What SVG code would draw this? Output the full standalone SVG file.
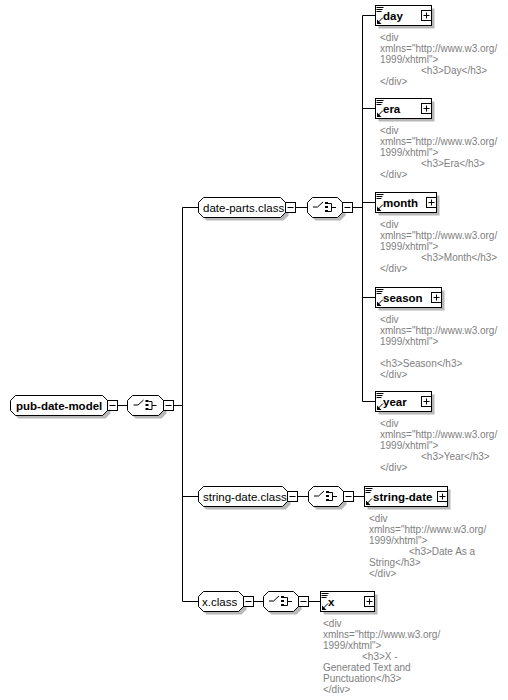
<svg xmlns="http://www.w3.org/2000/svg" width="508" height="700" viewBox="0 0 508 700">
<defs>
<style>
.bg{fill:#fff}
.box{fill:#fff;stroke:#000;stroke-width:1}
.sh{fill:#b8b8b8}
.ln{stroke:#000;stroke-width:1;fill:none}
.t{font-family:"Liberation Sans",Arial,sans-serif;font-size:11.5px;fill:#000}
.b{font-weight:bold}
.ann{font-family:"Liberation Sans",Arial,sans-serif;font-size:10px;fill:#808080}
</style>
<g id="minus"><rect class="box" x="0" y="0" width="10" height="10"/><path class="ln" d="M2,5H8"/></g>
<g id="plus"><rect class="box" x="0" y="0" width="10" height="10"/><path class="ln" d="M2,5H8M5,2V8"/></g>
<g id="choice">
<path class="ln" d="M6,0H10.5L16,-5"/>
<rect x="18" y="-5" width="3" height="2" fill="#000"/>
<rect x="18" y="-1" width="3" height="2" fill="#000"/>
<rect x="18" y="3" width="3" height="2" fill="#000"/>
<path class="ln" d="M21,-3.5H24.5V4.5H21M24.5,0.5H29"/>
</g>
<g id="elicons">
<path class="ln" d="M1,2H8M1,4H7M1,6H6"/>
<path d="M1.5,18.5L1.5,14L6,18.5Z" fill="#000"/>
<path class="ln" d="M3,16.5L7.5,12"/>
</g>
</defs>
<rect class="bg" x="0" y="0" width="508" height="700"/>

<g id="connectors">
<path class="ln" d="M117.5,405.5H127.5M173.5,405.5H182.5"/>
<path class="ln" d="M182.5,207.5V601.5M182.5,207.5H198.5M182.5,496.5H198.5M182.5,601.5H198.5"/>
<path class="ln" d="M295.5,207.5H307.5M352.5,207.5H362.5"/>
<path class="ln" d="M362.5,15.5V401.5M362.5,15.5H375.5M362.5,108.5H375.5M362.5,202.5H375.5M362.5,297.5H375.5M362.5,401.5H375.5"/>
<path class="ln" d="M297.5,496.5H308.5M353.5,496.5H364.5"/>
<path class="ln" d="M253.5,601.5H263.5M308.5,601.5H320.5"/>
</g>

<g id="pub-date-model">
<polygon class="sh" points="18.5,398.5 105.5,398.5 110.5,403.5 110.5,413.5 105.5,418.5 18.5,418.5 13.5,413.5 13.5,403.5"/>
<polygon class="box" points="15.5,395.5 102.5,395.5 107.5,400.5 107.5,410.5 102.5,415.5 15.5,415.5 10.5,410.5 10.5,400.5"/>
<text class="t b" x="16" y="410">pub-date-model</text>
<use href="#minus" x="107.5" y="400.5"/>
</g>

<g id="pub-choice">
<polygon class="sh" points="135.5,398.5 161.5,398.5 166.5,403.5 166.5,413.5 161.5,418.5 135.5,418.5 130.5,413.5 130.5,403.5"/>
<polygon class="box" points="132.5,395.5 158.5,395.5 163.5,400.5 163.5,410.5 158.5,415.5 132.5,415.5 127.5,410.5 127.5,400.5"/>
<use href="#choice" x="127.5" y="405"/>
<use href="#minus" x="163.5" y="400.5"/>
</g>

<g id="date-parts.class">
<polygon class="sh" points="206.5,200.5 283.5,200.5 288.5,205.5 288.5,215.5 283.5,220.5 206.5,220.5 201.5,215.5 201.5,205.5"/>
<polygon class="box" points="203.5,197.5 280.5,197.5 285.5,202.5 285.5,212.5 280.5,217.5 203.5,217.5 198.5,212.5 198.5,202.5"/>
<text class="t" x="203" y="212">date-parts.class</text>
<use href="#minus" x="285.5" y="202.5"/>
</g>

<g id="date-parts-choice">
<polygon class="sh" points="315.5,200.5 340.5,200.5 345.5,205.5 345.5,215.5 340.5,220.5 315.5,220.5 310.5,215.5 310.5,205.5"/>
<polygon class="box" points="312.5,197.5 337.5,197.5 342.5,202.5 342.5,212.5 337.5,217.5 312.5,217.5 307.5,212.5 307.5,202.5"/>
<use href="#choice" x="307" y="207"/>
<use href="#minus" x="342.5" y="202.5"/>
</g>

<g id="day">
<rect class="sh" x="378.5" y="8.5" width="56" height="20"/>
<rect class="box" x="375.5" y="5.5" width="56" height="20"/>
<use href="#elicons" x="375.5" y="5.5"/>
<text class="t b" x="383" y="20">day</text>
<use href="#plus" x="421.5" y="10.5"/>
<text class="ann" x="380" y="40.5">&lt;div</text>
<text class="ann" x="380" y="51.5">xmlns="http://www.w3.org/</text>
<text class="ann" x="380" y="62.5">1999/xhtml"&gt;</text>
<text class="ann" x="421" y="73.5">&lt;h3&gt;Day&lt;/h3&gt;</text>
<text class="ann" x="380" y="84.5">&lt;/div&gt;</text>
</g>

<g id="era">
<rect class="sh" x="378.5" y="101.5" width="56" height="20"/>
<rect class="box" x="375.5" y="98.5" width="56" height="20"/>
<use href="#elicons" x="375.5" y="98.5"/>
<text class="t b" x="383" y="113">era</text>
<use href="#plus" x="421.5" y="103.5"/>
<text class="ann" x="380" y="133.5">&lt;div</text>
<text class="ann" x="380" y="144.5">xmlns="http://www.w3.org/</text>
<text class="ann" x="380" y="155.5">1999/xhtml"&gt;</text>
<text class="ann" x="421" y="166.5">&lt;h3&gt;Era&lt;/h3&gt;</text>
<text class="ann" x="380" y="177.5">&lt;/div&gt;</text>
</g>

<g id="month">
<rect class="sh" x="378.5" y="195.5" width="61" height="20"/>
<rect class="box" x="375.5" y="192.5" width="61" height="20"/>
<use href="#elicons" x="375.5" y="192.5"/>
<text class="t b" x="383" y="207">month</text>
<use href="#plus" x="426.5" y="197.5"/>
<text class="ann" x="380" y="227.5">&lt;div</text>
<text class="ann" x="380" y="238.5">xmlns="http://www.w3.org/</text>
<text class="ann" x="380" y="249.5">1999/xhtml"&gt;</text>
<text class="ann" x="421" y="260.5">&lt;h3&gt;Month&lt;/h3&gt;</text>
<text class="ann" x="380" y="271.5">&lt;/div&gt;</text>
</g>

<g id="season">
<rect class="sh" x="378.5" y="290.5" width="66" height="20"/>
<rect class="box" x="375.5" y="287.5" width="66" height="20"/>
<use href="#elicons" x="375.5" y="287.5"/>
<text class="t b" x="383" y="302">season</text>
<use href="#plus" x="431.5" y="292.5"/>
<text class="ann" x="380" y="322.5">&lt;div</text>
<text class="ann" x="380" y="333.5">xmlns="http://www.w3.org/</text>
<text class="ann" x="380" y="344.5">1999/xhtml"&gt;</text>
<text class="ann" x="380" y="366.5">&lt;h3&gt;Season&lt;/h3&gt;</text>
<text class="ann" x="380" y="377.5">&lt;/div&gt;</text>
</g>

<g id="year">
<rect class="sh" x="378.5" y="394.5" width="56" height="20"/>
<rect class="box" x="375.5" y="391.5" width="56" height="20"/>
<use href="#elicons" x="375.5" y="391.5"/>
<text class="t b" x="383" y="406">year</text>
<use href="#plus" x="421.5" y="396.5"/>
<text class="ann" x="380" y="426.5">&lt;div</text>
<text class="ann" x="380" y="437.5">xmlns="http://www.w3.org/</text>
<text class="ann" x="380" y="448.5">1999/xhtml"&gt;</text>
<text class="ann" x="421" y="459.5">&lt;h3&gt;Year&lt;/h3&gt;</text>
<text class="ann" x="380" y="470.5">&lt;/div&gt;</text>
</g>

<g id="string-date.class">
<polygon class="sh" points="206.5,489.5 285.5,489.5 290.5,494.5 290.5,504.5 285.5,509.5 206.5,509.5 201.5,504.5 201.5,494.5"/>
<polygon class="box" points="203.5,486.5 282.5,486.5 287.5,491.5 287.5,501.5 282.5,506.5 203.5,506.5 198.5,501.5 198.5,491.5"/>
<text class="t" x="203" y="501">string-date.class</text>
<use href="#minus" x="287.5" y="491.5"/>
</g>

<g id="string-date-choice">
<polygon class="sh" points="316.5,489.5 341.5,489.5 346.5,494.5 346.5,504.5 341.5,509.5 316.5,509.5 311.5,504.5 311.5,494.5"/>
<polygon class="box" points="313.5,486.5 338.5,486.5 343.5,491.5 343.5,501.5 338.5,506.5 313.5,506.5 308.5,501.5 308.5,491.5"/>
<use href="#choice" x="308" y="496"/>
<use href="#minus" x="343.5" y="491.5"/>
</g>

<g id="string-date">
<rect class="sh" x="367.5" y="489.5" width="83" height="20"/>
<rect class="box" x="364.5" y="486.5" width="83" height="20"/>
<use href="#elicons" x="364.5" y="486.5"/>
<text class="t b" x="373" y="501">string-date</text>
<use href="#plus" x="437.5" y="491.5"/>
<text class="ann" x="369" y="521.5">&lt;div</text>
<text class="ann" x="369" y="532.5">xmlns="http://www.w3.org/</text>
<text class="ann" x="369" y="543.5">1999/xhtml"&gt;</text>
<text class="ann" x="409" y="554.5">&lt;h3&gt;Date As a</text>
<text class="ann" x="369" y="565.5">String&lt;/h3&gt;</text>
<text class="ann" x="369" y="576.5">&lt;/div&gt;</text>
</g>

<g id="x.class">
<polygon class="sh" points="206.5,594.5 241.5,594.5 246.5,599.5 246.5,609.5 241.5,614.5 206.5,614.5 201.5,609.5 201.5,599.5"/>
<polygon class="box" points="203.5,591.5 238.5,591.5 243.5,596.5 243.5,606.5 238.5,611.5 203.5,611.5 198.5,606.5 198.5,596.5"/>
<text class="t" x="202" y="606">x.class</text>
<use href="#minus" x="243.5" y="596.5"/>
</g>

<g id="x-choice">
<polygon class="sh" points="271.5,594.5 296.5,594.5 301.5,599.5 301.5,609.5 296.5,614.5 271.5,614.5 266.5,609.5 266.5,599.5"/>
<polygon class="box" points="268.5,591.5 293.5,591.5 298.5,596.5 298.5,606.5 293.5,611.5 268.5,611.5 263.5,606.5 263.5,596.5"/>
<use href="#choice" x="263" y="601"/>
<use href="#minus" x="298.5" y="596.5"/>
</g>

<g id="x">
<rect class="sh" x="323.5" y="594.5" width="54" height="20"/>
<rect class="box" x="320.5" y="591.5" width="54" height="20"/>
<use href="#elicons" x="320.5" y="591.5"/>
<text class="t b" x="328" y="606">x</text>
<use href="#plus" x="364.5" y="596.5"/>
<text class="ann" x="323" y="626.5">&lt;div</text>
<text class="ann" x="323" y="637.5">xmlns="http://www.w3.org/</text>
<text class="ann" x="323" y="648.5">1999/xhtml"&gt;</text>
<text class="ann" x="362" y="659.5">&lt;h3&gt;X -</text>
<text class="ann" x="323" y="670.5">Generated Text and</text>
<text class="ann" x="323" y="681.5">Punctuation&lt;/h3&gt;</text>
<text class="ann" x="323" y="692.5">&lt;/div&gt;</text>
</g>
</svg>
